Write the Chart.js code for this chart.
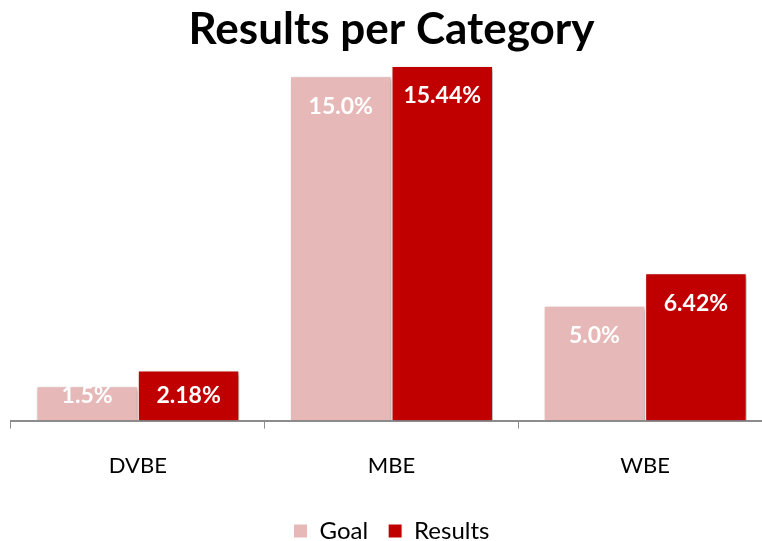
<!DOCTYPE html>
<html>
<head>
<meta charset="utf-8">
<script src="https://cdn.jsdelivr.net/npm/chart.js@4.4.0/dist/chart.umd.min.js"></script>
<style>
  html, body { margin: 0; padding: 0; background: #fff; overflow: hidden; }
  #wrap { width: 772px; height: 553px; }
</style>
</head>
<body>
<div id="wrap"><canvas id="myChart"></canvas></div>
<script>
const categories = ['DVBE', 'MBE', 'WBE'];
const goalValues = [1.5, 15.0, 5.0];
const resultValues = [2.18, 15.44, 6.42];
const goalLabels = ['1.5%', '15.0%', '5.0%'];
const resultLabels = ['2.18%', '15.44%', '6.42%'];

const fontFamily = 'Lato, "Open Sans", sans-serif';

// sombra de las barras
const barShadow = {
  id: 'barShadow',
  beforeDatasetsDraw(chart) {
    const c = chart.ctx;
    c.save();
    c.shadowColor = 'rgba(0,0,0,0.35)';
    c.shadowBlur = 4;
    c.shadowOffsetX = 2;
    c.shadowOffsetY = 2;
  },
  afterDatasetsDraw(chart) {
    chart.ctx.restore();
  },
};

// etiquetas dentro de las barras
const barLabels = {
  id: 'barLabels',
  afterDraw(chart) {
    const c = chart.ctx;
    const texts = [goalLabels, resultLabels];
    c.save();
    c.font = 'bold 23px ' + fontFamily;
    c.fillStyle = '#ffffff';
    c.textAlign = 'center';
    c.textBaseline = 'middle';
    chart.data.datasets.forEach((ds, i) => {
      const meta = chart.getDatasetMeta(i);
      meta.data.forEach((bar, j) => {
        const y = Math.min(bar.y + 30, bar.base - 25);
        c.fillText(texts[i][j], bar.x, y);
      });
    });
    c.restore();
  },
};

const ctx = document.getElementById('myChart');
new Chart(ctx, {
  type: 'bar',
  data: {
    labels: categories,
    datasets: [
      {
        label: 'Goal',
        data: goalValues,
        backgroundColor: '#E6B8B7',
        borderColor: '#ffffff',
        borderWidth: 1,
      },
      {
        label: 'Results',
        data: resultValues,
        backgroundColor: '#C00000',
        borderColor: '#ffffff',
        borderWidth: 1,
      },
    ],
  },
  options: {
    responsive: true,
    maintainAspectRatio: false,
    animation: false,
    categoryPercentage: 0.8,
    barPercentage: 1.0,
    layout: { padding: { left: 11, right: 0, top: 0, bottom: 0 } },
    scales: {
      x: {
        grid: {
          display: true,
          offset: true,
          drawOnChartArea: false,
          drawTicks: true,
          tickLength: 8,
          color: '#8c8c8c',
          lineWidth: 1,
        },
        border: { display: true, color: '#8c8c8c', width: 2 },
        ticks: {
          color: '#000000',
          padding: 24,
          font: { family: fontFamily, size: 22 },
        },
        afterFit(scale) {
          scale.height -= 4;
        },
      },
      y: {
        display: false,
        min: 0,
        max: 16,
      },
    },
    plugins: {
      title: {
        display: true,
        text: 'Results per Category',
        color: '#000000',
        font: { family: fontFamily, size: 44, weight: 'bold', lineHeight: 1.05 },
        padding: { top: 7, bottom: 0 },
      },
      legend: {
        position: 'bottom',
        labels: {
          color: '#000000',
          usePointStyle: true,
          pointStyle: 'rect',
          boxWidth: 14,
          boxHeight: 14,
          padding: 20,
          font: { family: fontFamily, size: 24 },
        },
      },
      tooltip: { enabled: false },
    },
  },
  plugins: [barShadow, barLabels],
});
</script>
</body>
</html>
